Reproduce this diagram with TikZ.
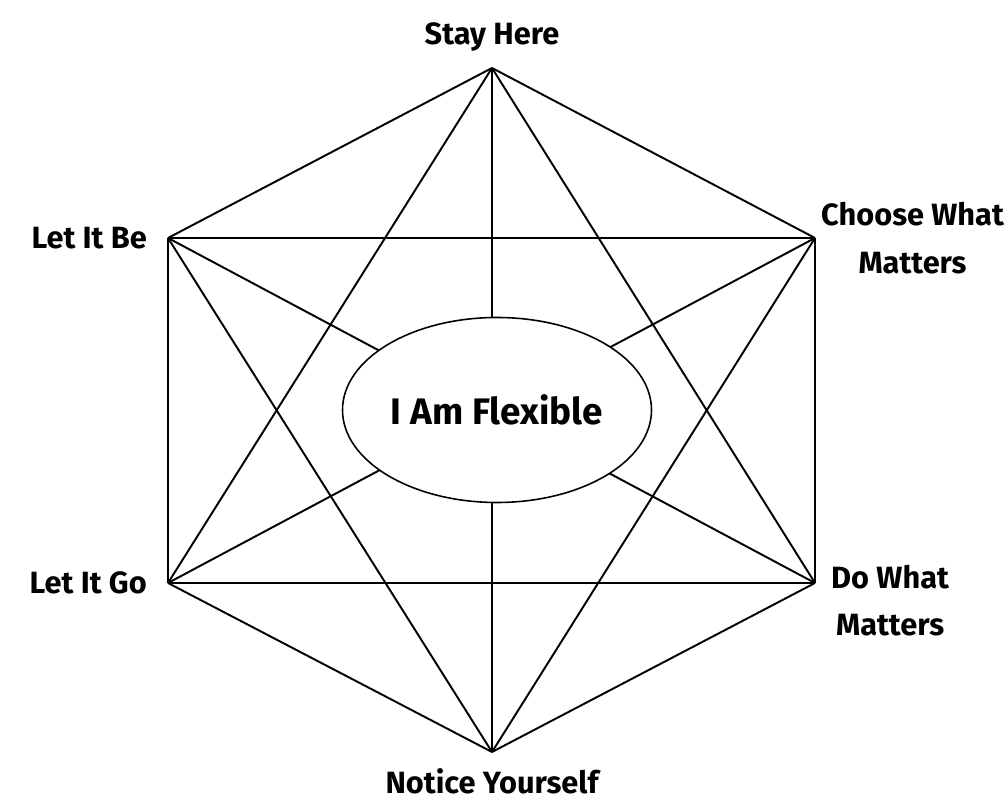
\documentclass[tikz,border=0pt]{standalone}
\usepackage{fontspec}
\setmainfont{Fira Sans}
\usepackage{tikz}
\usetikzlibrary{positioning,shapes.geometric}

\begin{document}
\begin{tikzpicture}[every node/.style={align=center,font=\bfseries\fontsize{17.5}{27}\selectfont},
    edge/.style={line width=1.1pt,line join=round}]
  \useasboundingbox (0,0) rectangle (20.14,16.2);
  % corners of the hexagon
  \coordinate (stay) at (9.84,14.84);
  \coordinate (be) at (3.36,11.44);
  \coordinate (choose) at (16.30,11.44);
  \coordinate (go) at (3.36,4.54);
  \coordinate (dowhat) at (16.30,4.54);
  \coordinate (notice) at (9.84,1.16);
  % every corner joined to every other
  \foreach \a/\b in {stay/be,stay/choose,stay/go,stay/dowhat,stay/notice,
                     be/choose,be/go,be/dowhat,be/notice,
                     choose/go,choose/dowhat,choose/notice,
                     go/dowhat,go/notice,dowhat/notice}
    \draw[edge] (\a) -- (\b);
  \node[draw,ellipse,fill=white,line width=0.9pt,inner sep=0pt,
    minimum width=6.18cm,minimum height=3.7cm,font=\bfseries\fontsize{21}{24}\selectfont] (ctr) at (9.94,8.0)
    {I Am Flexible};
  % labels
  \node[above=0.2cm of stay] (stayl) {Stay Here};
  \node[left=0.3cm of be] (bel) {Let It Be};
  \node[right=0.0cm of choose] (choosel) {Choose What\\Matters};
  \node[left=0.3cm of go] (gol) {Let It Go};
  \node[anchor=west] (dowhatl) at ([xshift=0.2cm,yshift=-0.35cm]dowhat) {Do What\\Matters};
  \node[below=0.2cm of notice] (noticel) {Notice Yourself};
\end{tikzpicture}
\end{document}
